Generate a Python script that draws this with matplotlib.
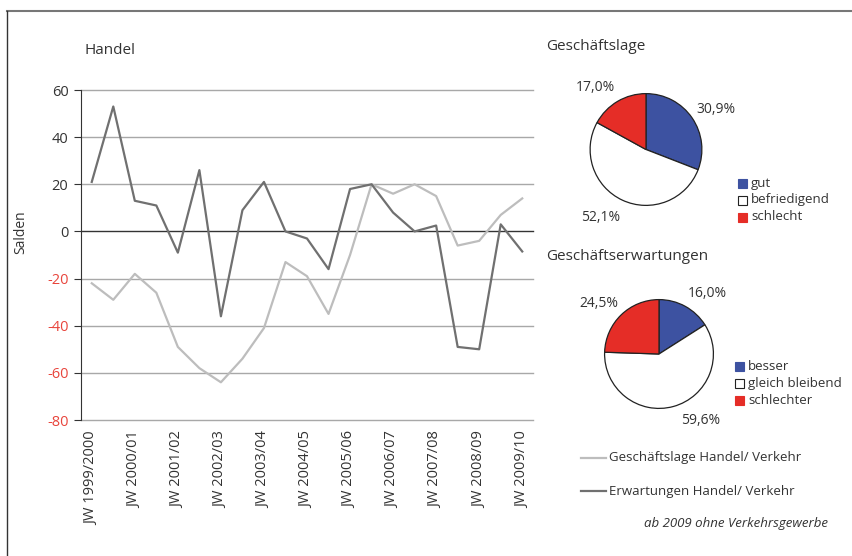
import matplotlib.pyplot as plt
from matplotlib.lines import Line2D
from matplotlib.patches import Rectangle

plt.rcParams['font.family'] = ['Open Sans', 'DejaVu Sans']
plt.rcParams['axes.unicode_minus'] = False

# Halbjahreswerte, Salden
jahre = ["JW 1999/2000", "JW 2000/01", "JW 2001/02", "JW 2002/03", "JW 2003/04",
         "JW 2004/05", "JW 2005/06", "JW 2006/07", "JW 2007/08", "JW 2008/09", "JW 2009/10"]
geschaeftslage = [-22, -29, -18, -26, -49, -58, -64, -54, -41, -13, -19,
                  -35, -10, 20, 16, 20, 15, -6, -4, 7, 14]
erwartungen = [21, 53, 13, 11, -9, 26, -36, 9, 21, 0, -3,
               -16, 18, 20, 8, 0, 2.5, -49, -50, 3, -8.5]

lage_werte = [30.9, 52.1, 17.0]
lage_namen = ["gut", "befriedigend", "schlecht"]
erw_werte = [16.0, 59.6, 24.5]
erw_namen = ["besser", "gleich bleibend", "schlechter"]

BLAU = "#3d52a1"
ROT = "#e52d27"
HELL = "#bdbdbd"
DUNKEL = "#707070"
TEXT = "#333333"


def linien_diagramm(fig):
    ax = fig.add_axes([81 / 852, 1 - 420 / 556, 452 / 852, 330 / 556])
    x = list(range(len(geschaeftslage)))
    l1, = ax.plot(x, geschaeftslage, color=HELL, lw=1.6, label="Geschäftslage Handel/ Verkehr")
    l2, = ax.plot(x, erwartungen, color=DUNKEL, lw=1.6, label="Erwartungen Handel/ Verkehr")
    ax.set_xlim(-0.5, len(x) - 0.5)
    ax.set_ylim(-80, 60)
    ax.set_yticks(range(-80, 61, 20))
    for y in range(-80, 61, 20):
        if y == 0:
            ax.axhline(y, color="#333333", lw=1.0, zorder=1, clip_on=False)
        else:
            ax.axhline(y, color="#a8a8a8", lw=1.0, zorder=0, clip_on=False)
    ax.set_xticks(x[::2])
    ax.set_xticklabels(jahre, rotation=90, fontsize=10.5, color=TEXT)
    ax.tick_params(axis="x", length=0, pad=8)
    ax.tick_params(axis="y", length=5, color="#333333", labelsize=10.5, pad=4)
    for lab, y in zip(ax.get_yticklabels(), range(-80, 61, 20)):
        lab.set_color("#e8453c" if y < 0 else TEXT)
    for s in ["top", "right", "bottom"]:
        ax.spines[s].set_visible(False)
    ax.spines["left"].set_color("#333333")
    ax.set_ylabel("Salden", fontsize=10, color=TEXT)
    ax.yaxis.set_label_coords(-0.116, 0.57)
    return ax, [l1, l2]


def torte(fig, mitte, r, werte, namen, titel, titel_pos, pct_pos, leg_x, leg_y):
    cx, cy = mitte
    ax = fig.add_axes([(cx - r) / 852, 1 - (cy + r) / 556, 2 * r / 852, 2 * r / 556])
    ax.pie(werte, colors=[BLAU, "white", ROT], startangle=90, counterclock=False,
           wedgeprops=dict(edgecolor="#222222", linewidth=0.9), radius=1)
    ax.set_xlim(-1.02, 1.02)
    ax.set_ylim(-1.02, 1.02)
    for w, (px, py) in zip(werte, pct_pos):
        ax.text(px, py, f"{w:.1f}%".replace(".", ","), fontsize=10, color=TEXT,
                ha="center", va="center", clip_on=False)
    fig.text(titel_pos[0] / 852, 1 - titel_pos[1] / 556, titel, fontsize=11,
             color=TEXT, va="center")
    for i, (name, farbe) in enumerate(zip(namen, [BLAU, "white", ROT])):
        y = leg_y + i * 17
        fig.add_artist(Rectangle((leg_x / 852, 1 - (y + 4.5) / 556), 9 / 852, 9 / 556,
                                 facecolor=farbe, edgecolor="#222222" if farbe == "white" else farbe,
                                 lw=0.8, transform=fig.transFigure))
        fig.text((leg_x + 13) / 852, 1 - y / 556, name, fontsize=9.5, color=TEXT, va="center")


fig = plt.figure(figsize=(8.52, 5.56), dpi=100)

ax, linien = linien_diagramm(fig)
fig.text(85 / 852, 1 - 50 / 556, "Handel", fontsize=11, color=TEXT, va="center")

torte(fig, (646, 149.5), 57, lage_werte, lage_namen, "Geschäftslage", (546, 47),
      [(1.25, 0.72), (-0.82, -1.21), (-0.91, 1.11)], 738, 183)
torte(fig, (659, 354), 55.5, erw_werte, erw_namen, "Geschäftserwartungen", (546, 257),
      [(0.89, 1.11), (0.77, -1.23), (-1.11, 0.93)], 735, 366)

# Legende der Linien
for i, line in enumerate(linien):
    y = 1 - (458 + i * 33) / 556
    fig.add_artist(Line2D([581 / 852, 606 / 852], [y, y], color=line.get_color(), lw=1.6))
    fig.text(609 / 852, y, line.get_label(), fontsize=9.5, color=TEXT, va="center")

fig.text(828 / 852, 1 - 523 / 556, "ab 2009 ohne Verkehrsgewerbe", fontsize=9.5,
         style="italic", color=TEXT, ha="right", va="center")

# Rahmen
fig.add_artist(Line2D([7 / 852, 1], [1 - 11 / 556, 1 - 11 / 556], color="#777777", lw=1.5))
fig.add_artist(Line2D([7 / 852, 7 / 852], [0, 1 - 11 / 556], color="#333333", lw=1.0))

fig.savefig("out.png", dpi=100)
